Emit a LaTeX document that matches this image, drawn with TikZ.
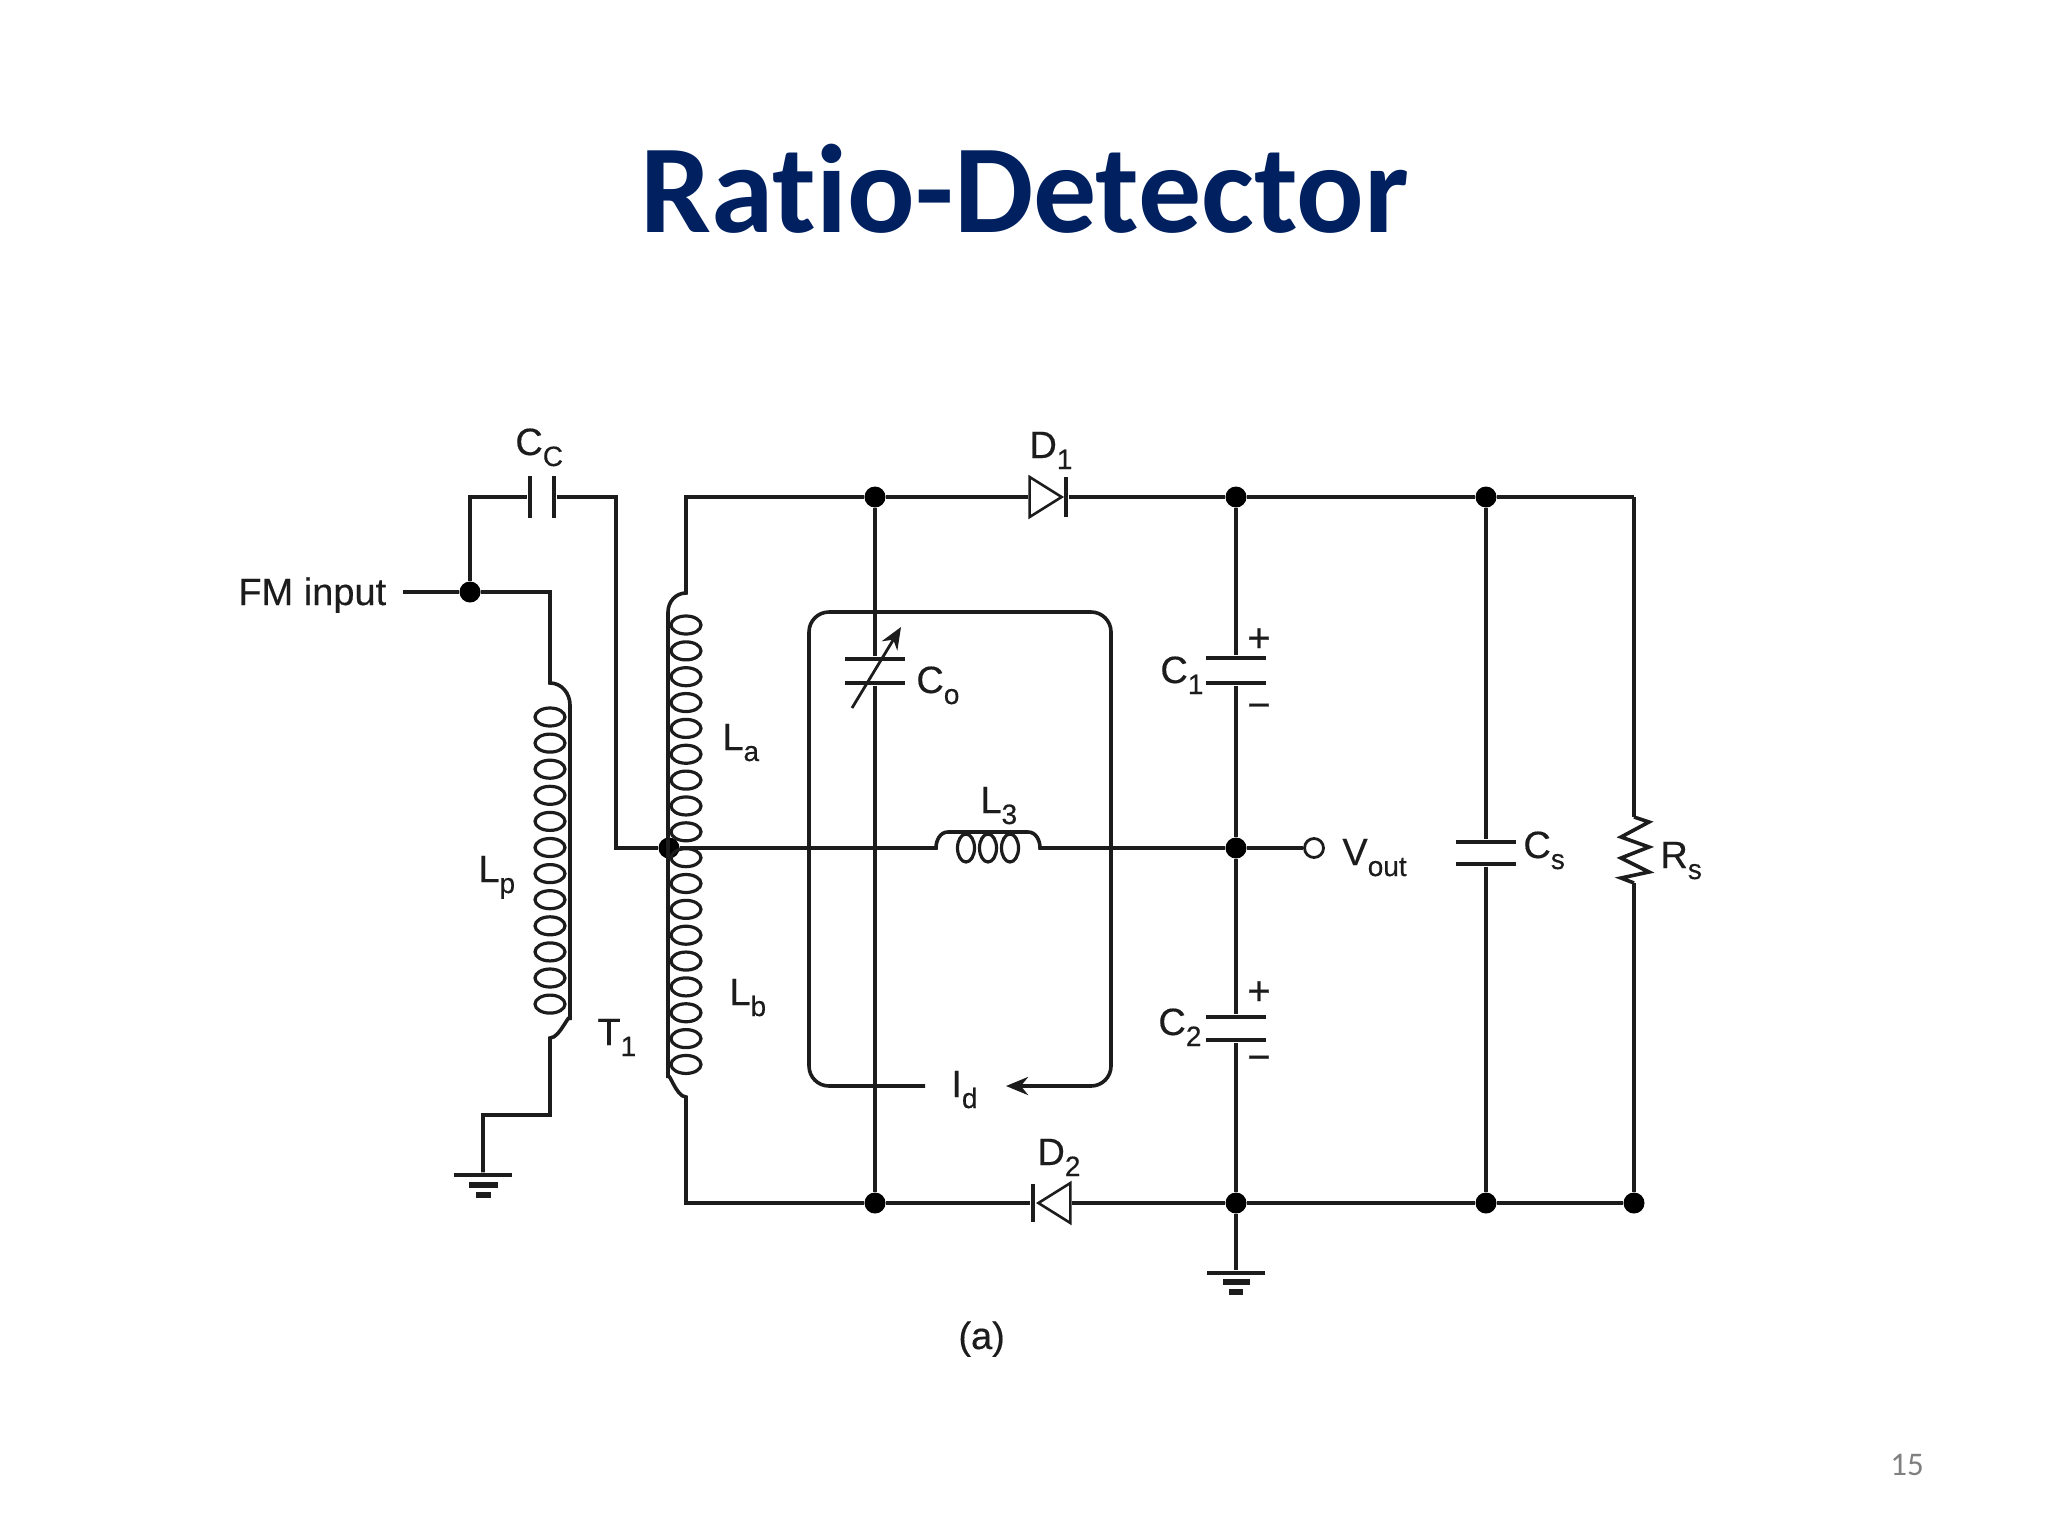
\documentclass[tikz,border=0pt]{standalone}
\usepackage{fontspec}
\setmainfont[FakeBold=0.4,AutoFakeBold=false]{Liberation Sans}
\newfontfamily\titlefont[Ligatures=NoCommon]{Carlito}
\usetikzlibrary{arrows.meta,shapes.geometric}
\definecolor{titleblue}{HTML}{002060}
\definecolor{wirecol}{HTML}{1C1C1C}
\newcommand{\sublabel}[2]{#1\raisebox{-5.5pt}{\fontsize{14}{14}\selectfont #2}}

\begin{document}
\begin{tikzpicture}[%
    x=0.5pt,
    y=-0.5pt,
    >={Stealth[length=11pt,width=9pt]},
    wire/.style={%
      draw=wirecol,
      line width=1.8pt
    },
    junction/.style={%
      circle,
      fill=black,
      minimum size=10.5pt,
      inner sep=0pt
    },
    coilloop/.style={%
      ellipse,
      draw=wirecol,
      line width=1.6pt,
      minimum width=15pt,
      minimum height=9pt,
      inner sep=0pt
    },
    hplate/.style={%
      rectangle,
      fill=wirecol,
      minimum width=30pt,
      minimum height=2.2pt,
      inner sep=0pt
    },
    vplate/.style={%
      rectangle,
      fill=wirecol,
      minimum width=2.2pt,
      minimum height=21pt,
      inner sep=0pt
    },
    diode/.style={%
      isosceles triangle,
      isosceles triangle stretches,
      draw=wirecol,
      line width=1.3pt,
      minimum height=16pt,
      minimum width=20pt,
      inner sep=0pt
    },
    tag/.style={%
      anchor=base west,
      inner sep=0pt,
      text=wirecol,
      font=\fontsize{19}{19}\selectfont
    },
    sign/.style={%
      inner sep=0pt,
      text=wirecol,
      font=\fontsize{20}{20}\selectfont
    }
  ]
    \useasboundingbox (0,0) rectangle (2048,1536);

    \node[anchor=base,inner sep=0pt,text=titleblue,font=\titlefont\bfseries\fontsize{63}{63}\selectfont] (title) at (1025,232) {Ratio-Detector};
    \node[anchor=base,inner sep=0pt,text=black!50,font=\titlefont\fontsize{16.5}{16.5}\selectfont] (pageno) at (1907,1475) {15};

    \foreach \name/\px/\py in {fm/470/592, tap/669/848, topa/875/497, topb/1236/497, topc/1486/497,
                               mid/1236/848, bota/875/1203, botb/1236/1203, botc/1486/1203, botd/1634/1203}
      \node[junction] (\name) at (\px,\py) {};

    \foreach \i in {0,...,11}
      \node[coilloop] (lp\i) at (550,{717+26.1*\i}) {};
    \foreach \i in {0,...,17}
      \node[coilloop] (ls\i) at (686,{625+25.85*\i}) {};
    \foreach \i in {0,1,2}
      \node[coilloop,minimum width=8.5pt,minimum height=14pt] (lt\i) at ({966+22*\i},848) {};

    \node[vplate] (cca) at (530,497) {};
    \node[vplate] (ccb) at (554,497) {};
    \node[hplate] (coa) at (875,659) {};
    \node[hplate] (cob) at (875,683) {};
    \node[hplate] (cat) at (1236,658) {};
    \node[hplate] (cab) at (1236,683) {};
    \node[hplate] (cbt) at (1236,1017) {};
    \node[hplate] (cbb) at (1236,1040) {};
    \node[hplate] (cst) at (1486,842) {};
    \node[hplate] (csb) at (1486,864) {};

    \node[diode,anchor=apex] (d1) at (1065,497) {};
    \node[vplate,minimum height=20pt] (d1k) at (1066,497) {};
    \node[diode,anchor=apex,shape border rotate=180] (d2) at (1035,1203) {};
    \node[vplate,minimum height=19pt] (d2k) at (1033,1203) {};

    \node[hplate,minimum width=29pt] (gla) at (483,1175) {};
    \node[hplate,minimum width=14.5pt,minimum height=3pt] (glb) at (483,1185) {};
    \node[hplate,minimum width=7.5pt,minimum height=3pt] (glc) at (483,1195) {};
    \node[hplate,minimum width=29pt] (gra) at (1236,1273) {};
    \node[hplate,minimum width=13.5pt,minimum height=3pt] (grb) at (1236,1282) {};
    \node[hplate,minimum width=7pt,minimum height=3pt] (grc) at (1236,1292) {};

    \node[circle,draw=wirecol,line width=1.4pt,minimum size=9.5pt,inner sep=0pt] (vo) at (1314,848) {};

    \coordinate (fmin) at (403,592);
    \coordinate (rs) at (1634,497);
    \coordinate (rsa) at (1634,817);
    \coordinate (rsb) at (1634,883);
    \coordinate (idl) at (925,1086);
    \coordinate (idr) at (1006,1086);

    \draw[wire] (fmin) -- (fm) -- (550,592) -- (550,683) to[out=0,in=90] (570,705) -- (570,1020) to[out=90,in=0] (550,1038) -- (550,1115) -- (483,1115) -- (gla);
    \draw[wire] (fm) |- (cca);
    \draw[wire] (ccb) -- (616,497) -- (616,848) -- (tap);
    \draw[wire] (topa) -- (686,497) -- (686,593) to[out=180,in=90] (668,612) -- (668,1078) to[out=90,in=180] (686,1097) -- (686,1203) -- (bota);
    \draw[wire] (tap) -- (936,848) to[out=90,in=180] (948,832) -- (1028,832) to[out=0,in=90] (1040,848) -- (mid);
    \draw[wire] (mid) -- (vo);

    \path (topa) edge[wire] (d1.lower side)
          (d1k) edge[wire] (topb)
          (topb) edge[wire] (topc)
          (topc) edge[wire] (rs)
          (rs) edge[wire] (rsa)
          (rsb) edge[wire] (botd)
          (bota) edge[wire] (d2k)
          (d2.lower side) edge[wire] (botb)
          (botb) edge[wire] (botc)
          (botc) edge[wire] (botd)
          (topa) edge[wire] (coa)
          (cob) edge[wire] (bota)
          (topb) edge[wire] (cat)
          (cab) edge[wire] (mid)
          (mid) edge[wire] (cbt)
          (cbb) edge[wire] (botb)
          (botb) edge[wire] (gra)
          (topc) edge[wire] (cst)
          (csb) edge[wire] (botc);

    \draw[wire] (rsa) -- (1649,822) -- (1621,837) -- (1649,847) -- (1621,858) -- (1649,872) -- (1621,878) -- (rsb);
    \draw[wire,rounded corners=10pt] (idl) -- (809,1086) -- (809,612) -- (1111,612) -- (1111,1086) -- (1060,1086);
    \draw[wire,->] (1060,1086) -- (idr);
    \draw[line width=1.4pt,draw=wirecol,->] (852,708) -- (901,627);

    \node[tag] (lcc) at (515,455) {\sublabel{C}{C}};
    \node[tag] (lfm) at (238,605) {FM input};
    \node[tag] (llp) at (478,882) {\sublabel{L}{p}};
    \node[tag] (lla) at (722,750) {\sublabel{L}{a}};
    \node[tag] (llb) at (729,1005) {\sublabel{L}{b}};
    \node[tag] (lt1) at (597,1045) {\sublabel{T}{1}};
    \node[tag] (lco) at (916,693) {\sublabel{C}{o}};
    \node[tag] (ll3) at (980,813) {\sublabel{L}{3}};
    \node[tag] (lvo) at (1342,865) {\sublabel{V}{out}};
    \node[tag] (lc1) at (1160,683) {\sublabel{C}{1}};
    \node[tag] (lc2) at (1158,1035) {\sublabel{C}{2}};
    \node[tag] (lcs) at (1523,858) {\sublabel{C}{s}};
    \node[tag] (lrs) at (1660,868) {\sublabel{R}{s}};
    \node[tag] (ld1) at (1029,458) {\sublabel{D}{1}};
    \node[tag] (ld2) at (1037,1165) {\sublabel{D}{2}};
    \node[tag] (lid) at (951,1097) {\sublabel{I}{d}};
    \node[tag] (lab) at (958,1349) {(a)};

    \node[sign] (pa) at (1259,640) {+};
    \node[sign] (ma) at (1259,711) {−};
    \node[sign] (pb) at (1259,993) {+};
    \node[sign] (mb) at (1259,1063) {−};
\end{tikzpicture}
\end{document}
